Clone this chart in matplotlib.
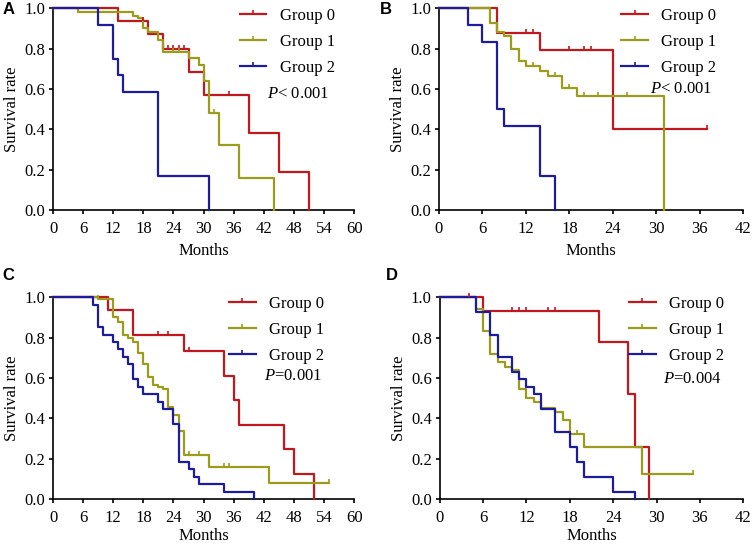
import matplotlib
matplotlib.use("Agg")
import matplotlib.pyplot as plt
from matplotlib.lines import Line2D
import numpy as np

plt.rcParams['font.family'] = ['Liberation Serif', 'DejaVu Serif']
plt.rcParams['mathtext.fontset'] = 'custom'
plt.rcParams['mathtext.rm'] = 'Liberation Serif'
plt.rcParams['mathtext.it'] = 'Liberation Serif:italic'

groups = ["Group 0", "Group 1", "Group 2"]
colors = ["#C0181E", "#9C9C1C", "#1C1C9C"]

# Panel A: event times, survival after each event, censor times
a0_t = [13, 19, 22, 27, 30, 39, 45, 51]
a0_s = [0.937, 0.87, 0.80, 0.683, 0.57, 0.38, 0.19, 0.0]
a0_c = [18, 23, 24, 25, 26, 35]
a1_t = [5, 16, 17, 18, 19, 21, 22, 27, 29, 30, 31, 33, 37, 44]
a1_s = [0.98, 0.962, 0.949, 0.90, 0.88, 0.84, 0.785, 0.755, 0.72, 0.64, 0.48, 0.32, 0.16, 0.0]
a1_c = [24, 25, 32]
a2_t = [9, 12, 13, 14, 21, 31]
a2_s = [0.917, 0.75, 0.667, 0.583, 0.167, 0.0]
a2_c = []

# Panel B
b0_t = [8, 14, 24]
b0_s = [0.875, 0.792, 0.40]
b0_c = [12, 13, 18, 20, 21, 37]
b1_t = [7, 8, 9, 10, 11, 12, 14, 15, 17, 19, 31]
b1_s = [0.924, 0.88, 0.863, 0.80, 0.738, 0.714, 0.69, 0.663, 0.605, 0.566, 0.0]
b1_c = [13, 16, 18, 20, 22, 26]
b2_t = [4, 6, 8, 9, 14, 16]
b2_s = [0.917, 0.833, 0.50, 0.417, 0.167, 0.0]
b2_c = []

# Panel C
c0_t = [11, 16, 26, 34, 36, 37, 46, 48, 52]
c0_s = [0.937, 0.815, 0.732, 0.61, 0.492, 0.368, 0.246, 0.125, 0.0]
c0_c = [21, 23, 27]
c1_t = [9, 12, 13, 14, 15, 16, 17, 18, 19, 20, 21, 22, 23, 24, 25, 26, 31, 43]
c1_s = [0.99, 0.90, 0.875, 0.815, 0.797, 0.78, 0.724, 0.67, 0.607, 0.564, 0.553,
        0.545, 0.454, 0.417, 0.338, 0.22, 0.157, 0.08]
c1_c = [9, 27, 29, 34, 35, 55]
c2_t = [8, 9, 10, 12, 13, 14, 15, 16, 17, 18, 21, 22, 24, 25, 27, 28, 29, 34, 40]
c2_s = [0.963, 0.852, 0.815, 0.778, 0.741, 0.704, 0.667, 0.593, 0.556, 0.519,
        0.481, 0.444, 0.37, 0.185, 0.148, 0.111, 0.074, 0.037, 0.0]
c2_c = []

# Panel D
d0_t = [6, 22, 26, 27, 29]
d0_s = [0.933, 0.778, 0.519, 0.259, 0.0]
d0_c = [4, 10, 11, 12, 15, 16]
d1_t = [5, 6, 7, 8, 9, 10, 11, 12, 13, 14, 16, 17, 18, 20, 28]
d1_s = [0.94, 0.832, 0.72, 0.68, 0.652, 0.639, 0.545, 0.50, 0.48, 0.45, 0.432,
        0.39, 0.32, 0.26, 0.125]
d1_c = [19, 35]
d2_t = [5, 7, 8, 10, 11, 12, 13, 14, 16, 18, 19, 20, 24, 27]
d2_s = [0.926, 0.815, 0.704, 0.63, 0.593, 0.556, 0.519, 0.444, 0.333, 0.259,
        0.185, 0.111, 0.037, 0.0]
d2_c = []

panels = [
    ("A", [(a0_t, a0_s, a0_c), (a1_t, a1_s, a1_c), (a2_t, a2_s, a2_c)], 60, "$\\it{P}$< 0.001"),
    ("B", [(b0_t, b0_s, b0_c), (b1_t, b1_s, b1_c), (b2_t, b2_s, b2_c)], 42, "$\\it{P}$< 0.001"),
    ("C", [(c0_t, c0_s, c0_c), (c1_t, c1_s, c1_c), (c2_t, c2_s, c2_c)], 60, "$\\it{P}$=0.001"),
    ("D", [(d0_t, d0_s, d0_c), (d1_t, d1_s, d1_c), (d2_t, d2_s, d2_c)], 42, "$\\it{P}$=0.004"),
]

# axes rectangles [left, bottom, width, height] in figure fraction
rects = [
    [0.0704, 0.614, 0.400, 0.371],
    [0.583, 0.614, 0.404, 0.371],
    [0.0704, 0.0827, 0.400, 0.371],
    [0.584, 0.0827, 0.403, 0.371],
]
letter_pos = [(0.003, 0.997), (0.504, 0.997), (0.003, 0.508), (0.512, 0.508)]
legend_anchor = [(0.935, 1.0), (0.912, 1.0), (0.90, 1.005), (0.937, 1.005)]
ptext_pos = [(0.711, 0.574), (0.694, 0.60), (0.701, 0.61), (0.736, 0.593)]
xlabel_pad = [4, 4, 1.5, 1.5]

tick_marker = [(0, 0), (0, 1)]

fig = plt.figure(figsize=(7.53, 5.44), dpi=100)

for i, (letter, curves, xmax, ptxt) in enumerate(panels):
    ax = fig.add_axes(rects[i])
    for (t, s, c), col in zip(curves, colors):
        xs = [0] + list(t)
        ys = [1.0] + list(s)
        end = max(c) if c else 0
        if end > xs[-1]:
            xs.append(end)
            ys.append(ys[-1])
        ax.step(xs, ys, where="post", color=col, lw=1.6, clip_on=False, zorder=3)
        if c:
            idx = np.searchsorted(np.array(xs[:len(t) + 1]), c, side="right") - 1
            cy = np.array(ys)[idx]
            ax.plot(c, cy, ls="none", marker=tick_marker, ms=6, mew=1.2,
                    color=col, clip_on=False, zorder=4)

    ax.set_xlim(0, xmax)
    ax.set_ylim(0, 1.0)
    ax.set_xticks(np.arange(0, xmax + 1, 6))
    ax.set_yticks(np.arange(0, 1.01, 0.2))
    ax.set_yticklabels([f"{v:.1f}" for v in np.arange(0, 1.01, 0.2)])
    for sp in ["top", "right"]:
        ax.spines[sp].set_visible(False)
    for sp in ["left", "bottom"]:
        ax.spines[sp].set_linewidth(1.2)
    ax.tick_params(direction="out", length=3.2, width=1.2, labelsize=12)
    ax.tick_params(axis="y", pad=2.5)
    ax.tick_params(axis="x", pad=5)
    ax.set_xlabel("Months", fontsize=12, labelpad=xlabel_pad[i])
    ax.set_ylabel("Survival rate", fontsize=12, labelpad=3)

    handles = [Line2D([0], [0], color=col, lw=1.6, marker=tick_marker, ms=6, mew=1.2)
               for col in colors]
    ax.legend(handles, groups, loc="upper right", bbox_to_anchor=legend_anchor[i],
              frameon=False, fontsize=12, handlelength=1.6, handletextpad=0.8,
              labelspacing=0.6, borderpad=0, borderaxespad=0, numpoints=1)
    ax.text(ptext_pos[i][0], ptext_pos[i][1], ptxt, transform=ax.transAxes,
            fontsize=12, va="center", ha="left")

    fig.text(letter_pos[i][0], letter_pos[i][1], letter, fontsize=12,
             fontweight="bold", family="Liberation Sans", va="top", ha="left")

fig.savefig("out.png", dpi=100)
